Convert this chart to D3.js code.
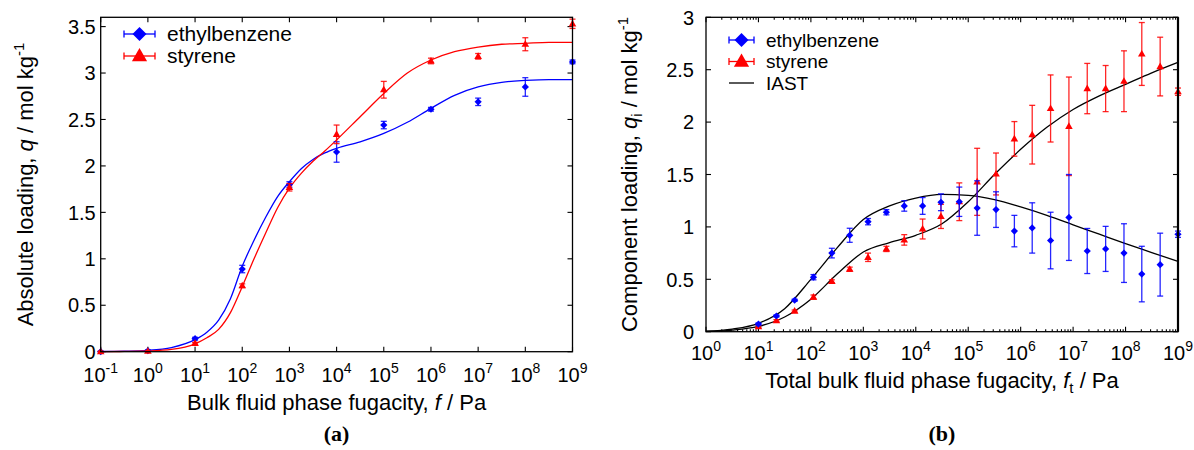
<!DOCTYPE html>
<html lang="en">
<head>
<meta charset="UTF-8">
<title>Ethylbenzene / styrene adsorption</title>
<script src="https://d3js.org/d3.v7.min.js"></script>
<style>
  body { margin: 0; background: #fff; }
  svg { display: block; font-family: "Liberation Sans", Arial, sans-serif; }
  .tick-label { font-size: 20px; fill: #000; }
  .axis-title { font-size: 22px; fill: #000; }
  .legend-text { font-size: 21px; fill: #000; }
  .legend-text.small { font-size: 19px; }
  .panel-tag { font-family: "Liberation Serif", serif; font-weight: bold; font-size: 22px; }
</style>
</head>
<body>
<svg id="chart" width="1194" height="450"></svg>
<script>
// ---- (a) pure component isotherms, one simulation per decade ----
const fugA   = [1e-1, 1e0, 1e1, 1e2, 1e3, 1e4, 1e5, 1e6, 1e7, 1e8, 1e9];
const ebA    = [0, 0.01, 0.14, 0.89, 1.80, 2.15, 2.44, 2.61, 2.69, 2.85, 3.12];
const ebAerr = [0.005, 0.01, 0.015, 0.04, 0.03, 0.11, 0.04, 0.02, 0.04, 0.10, 0.02];
const stA    = [0, 0.005, 0.09, 0.71, 1.77, 2.34, 2.82, 3.13, 3.18, 3.31, 3.53];
const stAerr = [0.005, 0.005, 0.01, 0.02, 0.04, 0.10, 0.09, 0.03, 0.03, 0.07, 0.05];

// fitted isotherm curves
const fitFugA = [1e-1, 3.16e-1, 1, 3.16, 10, 17.8, 31.6, 56.2, 100, 178, 316, 562, 1e3, 1.78e3,
                 3.16e3, 5.62e3, 1e4, 3.16e4, 1e5, 3.16e5, 1e6, 3.16e6, 1e7, 3.16e7, 1e8, 3.16e8, 1e9];
const ebFitA = [0.002, 0.006, 0.015, 0.045, 0.13, 0.21, 0.34, 0.57, 0.92, 1.2, 1.45, 1.67, 1.83, 1.97,
                2.07, 2.14, 2.19, 2.26, 2.35, 2.47, 2.62, 2.76, 2.85, 2.9, 2.92, 2.93, 2.93];
const stFitA = [0.001, 0.003, 0.008, 0.025, 0.085, 0.15, 0.24, 0.42, 0.70, 1.0, 1.28, 1.55, 1.76, 1.92,
                2.05, 2.16, 2.28, 2.53, 2.78, 3.0, 3.14, 3.23, 3.28, 3.31, 3.32, 3.33, 3.33];

// ---- (b) equimolar mixture ----
const fugB   = [10, 22, 49, 112, 251, 550, 1230, 2750, 6030, 1.35e4, 3.02e4, 6.76e4, 1.48e5, 3.39e5,
                7.59e5, 1.66e6, 3.72e6, 8.32e6, 1.86e7, 4.17e7, 9.33e7, 2.04e8, 4.57e8, 1e9];
const ebB    = [0.073, 0.15, 0.30, 0.52, 0.75, 0.92, 1.05, 1.14, 1.20, 1.20, 1.235, 1.24, 1.18, 1.165,
                0.96, 0.99, 0.87, 1.09, 0.77, 0.79, 0.75, 0.55, 0.64, 0.93];
const ebBerr = [0.01, 0.01, 0.01, 0.025, 0.046, 0.067, 0.03, 0.025, 0.05, 0.08, 0.08, 0.14, 0.26, 0.17,
                0.15, 0.24, 0.27, 0.41, 0.215, 0.215, 0.28, 0.265, 0.30, 0.03];
const stB    = [0.048, 0.105, 0.197, 0.33, 0.48, 0.596, 0.71, 0.79, 0.876, 0.98, 1.10, 1.24, 1.43, 1.505,
                1.84, 1.88, 2.13, 1.96, 2.32, 2.32, 2.39, 2.65, 2.53, 2.29];
const stBerr = [0.01, 0.01, 0.01, 0.02, 0.015, 0.02, 0.04, 0.025, 0.05, 0.095, 0.115, 0.18, 0.32, 0.2,
                0.165, 0.28, 0.32, 0.47, 0.24, 0.22, 0.29, 0.30, 0.28, 0.035];

// IAST prediction curves
const iastFug = [1, 3.16, 10, 31.6, 100, 316, 1e3, 3.16e3, 1e4, 3.16e4, 1e5, 3.16e5, 1e6, 3.16e6,
                 1e7, 3.16e7, 1e8, 3.16e8, 1e9];
const ebIast  = [0.005, 0.025, 0.08, 0.22, 0.50, 0.80, 1.07, 1.20, 1.275, 1.31, 1.30, 1.26, 1.19, 1.11,
                 1.02, 0.93, 0.84, 0.755, 0.67];
const stIast  = [0.003, 0.015, 0.05, 0.14, 0.31, 0.55, 0.76, 0.85, 0.92, 1.03, 1.24, 1.50, 1.74, 1.95,
                 2.12, 2.25, 2.36, 2.47, 2.57];

const yTicksA = [0, 0.5, 1, 1.5, 2, 2.5, 3, 3.5];
const yTicksB = [0, 0.5, 1, 1.5, 2, 2.5, 3];
const seriesNames = ["ethylbenzene", "styrene", "IAST"];

const BLUE = "#0000ff", RED = "#ff0000";
const svg = d3.select("#chart");

const zip = (xs, ys) => xs.map((v, i) => [v, ys[i]]);

function diamond(r) { return `M0,${-r}L${r},0L0,${r}L${-r},0Z`; }
function triangle(r) { return `M0,${-r}L${r * 0.95},${r * 0.65}L${-r * 0.95},${r * 0.65}Z`; }

function panel(box, xDomain, yDomain, yTicks, opts) {
  const x = d3.scaleLog().domain(xDomain).range([box.left, box.right]);
  const y = d3.scaleLinear().domain(yDomain).range([box.bottom, box.top]);
  const g = svg.append("g");
  const lo = Math.log10(xDomain[0]), hi = Math.log10(xDomain[1]);
  const decades = d3.range(lo, hi + 1).map(e => Math.pow(10, e));

  let minors = [];
  if (opts.minor) {
    decades.slice(0, -1).forEach(d => { for (let k = 2; k <= 9; k++) minors.push(d * k); });
  }

  const tk = g.append("g").attr("stroke", "#000").attr("stroke-width", 1.1);
  decades.forEach(v => {
    tk.append("line").attr("x1", x(v)).attr("x2", x(v)).attr("y1", box.bottom).attr("y2", box.bottom - 5);
    tk.append("line").attr("x1", x(v)).attr("x2", x(v)).attr("y1", box.top).attr("y2", box.top + 5);
  });
  minors.forEach(v => {
    tk.append("line").attr("x1", x(v)).attr("x2", x(v)).attr("y1", box.bottom).attr("y2", box.bottom - 2.5);
    tk.append("line").attr("x1", x(v)).attr("x2", x(v)).attr("y1", box.top).attr("y2", box.top + 2.5);
  });
  yTicks.forEach(v => {
    tk.append("line").attr("x1", box.left).attr("x2", box.left + 5).attr("y1", y(v)).attr("y2", y(v));
    tk.append("line").attr("x1", box.right).attr("x2", box.right - 5).attr("y1", y(v)).attr("y2", y(v));
  });

  // x tick labels 10^n
  decades.forEach(v => {
    const e = Math.round(Math.log10(v));
    const t = g.append("text").attr("class", "tick-label")
      .attr("x", x(v)).attr("y", box.bottom + opts.xLabelDy).attr("text-anchor", "middle");
    t.append("tspan").text("10");
    t.append("tspan").attr("dy", -9).attr("font-size", 14).text(e < 0 ? "-" + (-e) : e);
  });
  // y tick labels
  yTicks.forEach(v => {
    g.append("text").attr("class", "tick-label")
      .attr("x", box.left - opts.yPad).attr("y", y(v)).attr("dy", "0.36em")
      .attr("text-anchor", "end").text(String(v));
  });

  return { x, y, g };
}

function drawFrame(box, rightWidth) {
  svg.append("rect").attr("x", box.left).attr("y", box.top)
    .attr("width", box.right - box.left).attr("height", box.bottom - box.top)
    .attr("fill", "none").attr("stroke", "#000").attr("stroke-width", 1.3);
  if (rightWidth) {
    svg.append("line").attr("x1", box.right).attr("x2", box.right).attr("y1", box.top).attr("y2", box.bottom)
      .attr("stroke", "#000").attr("stroke-width", rightWidth);
  }
}

function points(p, xs, ys, errs, color, shape, r) {
  const g = p.g.append("g");
  xs.forEach((f, i) => {
    const cx = p.x(f), cy = p.y(ys[i]);
    const y1 = p.y(ys[i] + errs[i]), y2 = p.y(Math.max(0, ys[i] - errs[i]));
    const eb = g.append("g").attr("stroke", color).attr("stroke-width", 1.3).attr("stroke-opacity", 0.85);
    eb.append("line").attr("x1", cx).attr("x2", cx).attr("y1", y1).attr("y2", y2);
    eb.append("line").attr("x1", cx - 3).attr("x2", cx + 3).attr("y1", y1).attr("y2", y1);
    eb.append("line").attr("x1", cx - 3).attr("x2", cx + 3).attr("y1", y2).attr("y2", y2);
    g.append("path").attr("d", shape(r)).attr("transform", `translate(${cx},${cy})`).attr("fill", color);
  });
}

function curve(p, data, color) {
  const line = d3.line().x(d => p.x(d[0])).y(d => p.y(d[1])).curve(d3.curveMonotoneX);
  p.g.append("path").datum(data).attr("d", line)
    .attr("fill", "none").attr("stroke", color).attr("stroke-width", 1.3);
}

function legendEntry(x0, x1, cy, tx, label, color, shape, cls) {
  const g = svg.append("g");
  if (shape) {
    const eg = g.append("g").attr("stroke", color).attr("stroke-width", 1.3);
    eg.append("line").attr("x1", x0).attr("x2", x1).attr("y1", cy).attr("y2", cy);
    eg.append("line").attr("x1", x0).attr("x2", x0).attr("y1", cy - 3.5).attr("y2", cy + 3.5);
    eg.append("line").attr("x1", x1).attr("x2", x1).attr("y1", cy - 3.5).attr("y2", cy + 3.5);
    g.append("path").attr("d", shape).attr("transform", `translate(${(x0 + x1) / 2},${cy})`).attr("fill", color);
  } else {
    g.append("line").attr("x1", x0).attr("x2", x1).attr("y1", cy).attr("y2", cy)
      .attr("stroke", color).attr("stroke-width", 1.3);
  }
  g.append("text").attr("class", cls || "legend-text").attr("x", tx).attr("y", cy).attr("dy", "0.35em").text(label);
}

// ---------------- panel (a) ----------------
const boxA = { left: 100.7, right: 572.5, top: 17.3, bottom: 351.7 };
const pA = panel(boxA, [1e-1, 1e9], [0, 3.6], yTicksA, { minor: false, xLabelDy: 30, yPad: 5 });
curve(pA, zip(fitFugA, ebFitA), BLUE);
curve(pA, zip(fitFugA, stFitA), RED);
points(pA, fugA, ebA, ebAerr, BLUE, diamond, 3.6);
points(pA, fugA, stA, stAerr, RED, triangle, 4);
drawFrame(boxA);

legendEntry(124, 155, 34, 167, seriesNames[0], BLUE, diamond(7));
legendEntry(124, 155, 56, 167, seriesNames[1], RED, triangle(8));

const xtA = svg.append("text").attr("class", "axis-title").attr("text-anchor", "middle")
  .attr("x", (boxA.left + boxA.right) / 2).attr("y", 410);
xtA.append("tspan").text("Bulk fluid phase fugacity, ");
xtA.append("tspan").attr("font-style", "italic").text("f");
xtA.append("tspan").text(" / Pa");

const ytA = svg.append("text").attr("class", "axis-title").attr("text-anchor", "middle")
  .attr("transform", `translate(33,${(boxA.top + boxA.bottom) / 2}) rotate(-90)`);
ytA.append("tspan").text("Absolute loading, ");
ytA.append("tspan").attr("font-style", "italic").text("q");
ytA.append("tspan").text(" / mol kg");
ytA.append("tspan").attr("dy", -9).attr("font-size", 15).text("-1");

svg.append("text").attr("class", "panel-tag").attr("text-anchor", "middle")
  .attr("x", (boxA.left + boxA.right) / 2).attr("y", 441).text("(a)");

// ---------------- panel (b) ----------------
const boxB = { left: 706, right: 1178, top: 17.3, bottom: 331.7 };
const pB = panel(boxB, [1, 1e9], [0, 3], yTicksB, { minor: true, xLabelDy: 28, yPad: 12 });
curve(pB, zip(iastFug, ebIast), "#000");
curve(pB, zip(iastFug, stIast), "#000");
points(pB, fugB, stB, stBerr, RED, triangle, 4);
points(pB, fugB, ebB, ebBerr, BLUE, diamond, 3.6);
drawFrame(boxB, 2.2);

legendEntry(729, 754, 40, 766, seriesNames[0], BLUE, diamond(7), "legend-text small");
legendEntry(729, 754, 61.5, 766, seriesNames[1], RED, triangle(8), "legend-text small");
legendEntry(729, 754, 83, 766, seriesNames[2], "#000", null, "legend-text small");

const xtB = svg.append("text").attr("class", "axis-title").attr("text-anchor", "middle")
  .attr("x", (boxB.left + boxB.right) / 2).attr("y", 388);
xtB.append("tspan").text("Total bulk fluid phase fugacity, ");
xtB.append("tspan").attr("font-style", "italic").text("f");
xtB.append("tspan").attr("dy", 5).attr("font-size", 15).text("t");
xtB.append("tspan").attr("dy", -5).text(" / Pa");

const ytB = svg.append("text").attr("class", "axis-title").attr("text-anchor", "middle")
  .attr("transform", `translate(637,${(boxB.top + boxB.bottom) / 2}) rotate(-90)`);
ytB.append("tspan").text("Component loading, ");
ytB.append("tspan").attr("font-style", "italic").text("q");
ytB.append("tspan").attr("dy", 5).attr("font-size", 15).text("i");
ytB.append("tspan").attr("dy", -5).text(" / mol kg");
ytB.append("tspan").attr("dy", -9).attr("font-size", 15).text("-1");

svg.append("text").attr("class", "panel-tag").attr("text-anchor", "middle")
  .attr("x", (boxB.left + boxB.right) / 2).attr("y", 441).text("(b)");
</script>
</body>
</html>
